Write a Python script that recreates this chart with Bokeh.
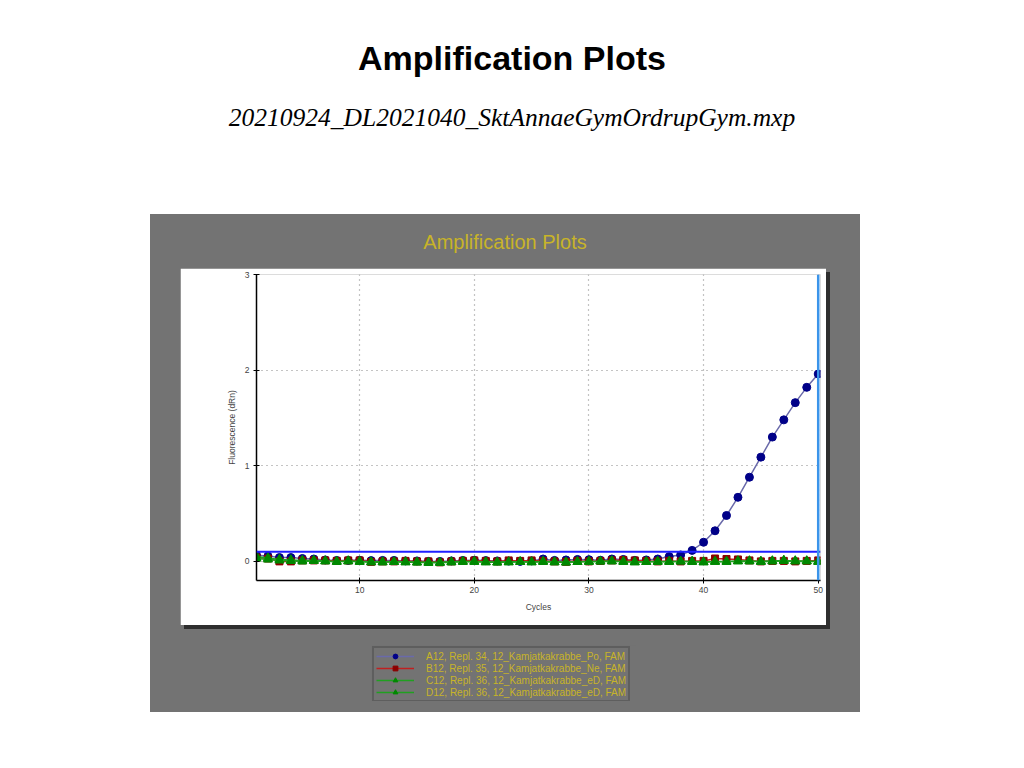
from bokeh.embed import file_html
from bokeh.resources import INLINE
from bokeh.layouts import column, row
from bokeh.models import (ColumnDataSource, Div, Legend, LegendItem, Range1d,
                          Span, Spacer)
from bokeh.plotting import figure

# cycles 1..50
cycles = list(range(1, 51))

a12 = [0.065, 0.055, 0.04, 0.04, 0.03, 0.025, 0.015, 0.01, 0.01, 0.012,
       0.008, 0.01, 0.01, 0.005, 0.005, 0.0, 0.0, 0.005, 0.01, 0.012,
       0.008, 0.005, 0.003, 0.0, 0.005, 0.025, 0.01, 0.015, 0.02, 0.018,
       0.012, 0.025, 0.02, 0.01, 0.015, 0.025, 0.05, 0.067, 0.115, 0.2,
       0.32, 0.48, 0.67, 0.88, 1.09, 1.30, 1.48, 1.66, 1.82, 1.96]
b12 = [0.04, 0.03, 0.0, 0.0, 0.01, 0.01, 0.01, 0.005, 0.01, 0.01,
       -0.005, 0.0, 0.0, 0.005, 0.0, 0.0, -0.01, 0.0, 0.005, 0.01,
       0.005, 0.0, 0.01, 0.005, 0.01, 0.005, 0.0, -0.005, 0.005, 0.0,
       0.005, 0.01, 0.015, 0.01, 0.005, 0.0, 0.005, 0.0, 0.005, 0.005,
       0.03, 0.025, 0.02, 0.01, 0.0, 0.005, 0.005, 0.0, 0.005, 0.01]
c12 = [0.05, 0.035, 0.02, 0.015, 0.01, 0.01, 0.005, 0.0, 0.005, 0.0,
       -0.005, -0.005, -0.005, -0.005, -0.01, -0.01, -0.01, -0.005, 0.0, 0.0,
       -0.005, -0.01, -0.005, -0.005, -0.005, 0.0, -0.005, -0.01, -0.005, 0.0,
       0.0, 0.005, 0.0, -0.005, -0.005, 0.0, 0.0, 0.0, 0.0, -0.005,
       0.0, 0.0, 0.005, 0.005, 0.0, 0.005, 0.01, 0.005, 0.005, 0.0]
d12 = [0.03, 0.02, 0.01, 0.005, 0.0, 0.005, 0.0, -0.005, 0.0, -0.005,
       -0.01, -0.01, -0.005, -0.01, -0.01, -0.015, -0.015, -0.01, -0.005, -0.005,
       -0.01, -0.01, -0.01, -0.005, -0.01, -0.005, -0.01, -0.01, -0.005, -0.005,
       0.0, 0.0, -0.005, -0.01, -0.005, -0.005, -0.005, 0.0, -0.005, -0.01,
       -0.005, -0.005, 0.0, 0.0, -0.005, 0.0, 0.005, 0.0, 0.0, -0.005]

labels = ["A12, Repl. 34, 12_Kamjatkakrabbe_Po, FAM",
          "B12, Repl. 35, 12_Kamjatkakrabbe_Ne, FAM",
          "C12, Repl. 36, 12_Kamjatkakrabbe_eD, FAM",
          "D12, Repl. 36, 12_Kamjatkakrabbe_eD, FAM"]
threshold = 0.1
last_cycle = 50

GRAY = "#737373"
YELLOW = "#c8b428"
FONT = "Liberation Sans"

# style per series: (line color, marker, marker color, size)
styles = [("#6a6aaa", "circle", "#000088", 8),
          ("#c02020", "square", "#8b0000", 7),
          ("#20a020", "triangle", "#008800", 9),
          ("#20a020", "triangle", "#008800", 9)]

src = ColumnDataSource(data=dict(x=cycles, a=a12, b=b12, c=c12, d=d12))

p = figure(width=646, height=357, x_range=Range1d(1, 50.2), y_range=Range1d(-0.2, 3),
           output_backend="svg", toolbar_location=None,
           min_border_left=76, min_border_right=6, min_border_top=6, min_border_bottom=45,
           background_fill_color="white", border_fill_color="white",
           outline_line_color=None, margin=0,
           styles={"box-shadow": "4px 4px 0px #2e2e2e"})

p.xaxis.ticker = [10, 20, 30, 40, 50]
p.xaxis.ticker.num_minor_ticks = 10
p.yaxis.ticker = [0, 1, 2, 3]
p.yaxis.ticker.num_minor_ticks = 2
p.xaxis.axis_label = "Cycles"
p.yaxis.axis_label = "Fluorescence (dRn)"
for ax in (p.xaxis, p.yaxis):
    ax.axis_line_color = "black"
    ax.axis_line_width = 1.5
    ax.major_tick_in = 3
    ax.major_tick_out = 3
    ax.minor_tick_in = 2
    ax.minor_tick_out = 2
    ax.major_tick_line_color = "black"
    ax.minor_tick_line_color = "black"
    ax.major_label_text_font = FONT
    ax.major_label_text_font_size = "8.5px"
    ax.major_label_text_color = "#444444"
    ax.axis_label_text_font = FONT
    ax.axis_label_text_font_size = "8.5px"
    ax.axis_label_text_font_style = "normal"
    ax.axis_label_text_color = "#444444"
p.xaxis.major_label_standoff = 3
p.xaxis.axis_label_standoff = 6
p.yaxis.major_label_standoff = 4
p.yaxis.axis_label_standoff = 5

p.grid.grid_line_color = "#888888"
p.grid.grid_line_dash = "1 4"
p.grid.grid_line_width = 1.2

for col, (lc, mk, mc, sz) in zip(["a", "b", "c", "d"], styles):
    p.line("x", col, source=src, line_color=lc, line_width=1.5)
    p.scatter("x", col, source=src, marker=mk, size=sz, fill_color=mc, line_color=mc)

p.add_layout(Span(location=threshold, dimension="width", line_color="#1f1fff", line_width=2))
p.add_layout(Span(location=last_cycle, dimension="height", line_color="#3a94ea", line_width=2.5))

# legend in its own small panel; the series sit outside its ranges
lg = figure(width=265, height=56, x_range=(100, 101), y_range=(100, 101),
            output_backend="svg", toolbar_location=None,
            x_axis_location=None, y_axis_location=None, min_border=0,
            background_fill_color=GRAY, border_fill_color=GRAY,
            outline_line_color=None, margin=0)
lg.grid.visible = False
items = []
for lab, col, (lc, mk, mc, sz) in zip(labels, ["a", "b", "c", "d"], styles):
    lr = lg.line("x", col, source=src, line_color=lc, line_width=1.5)
    sr = lg.scatter("x", col, source=src, marker=mk, size=sz, fill_color=mc, line_color=mc)
    items.append(LegendItem(label=lab, renderers=[lr, sr]))
leg = Legend(items=items, location="top_left", margin=1, padding=2, spacing=0,
             glyph_width=38, glyph_height=12, label_height=12, label_standoff=12,
             label_text_font=FONT, label_text_font_size="10px", label_text_color=YELLOW,
             background_fill_color=GRAY, background_fill_alpha=1.0,
             border_line_color="#4a4a4a", border_line_width=2)
lg.add_layout(leg, "center")

header = Div(text=(
    '<div style="position:relative;width:1016px;height:214px;">'
    '<div style="position:absolute;left:8px;top:37px;width:1008px;text-align:center;'
    "font-family:'Liberation Sans';font-weight:bold;font-size:34px;line-height:42px;color:#000;\">"
    'Amplification Plots</div>'
    '<div style="position:absolute;left:8px;top:101px;width:1008px;text-align:center;'
    "font-family:'Liberation Serif';font-style:italic;font-size:25.5px;line-height:34px;color:#000;\">"
    '20210924_DL2021040_SktAnnaeGymOrdrupGym.mxp</div></div>'),
    width=1016, height=214, margin=0)

ptitle = Div(text=(
    '<div style="width:710px;height:54px;text-align:center;'
    "font-family:'Liberation Sans';font-size:20px;line-height:56px;color:" + YELLOW + ';">'
    'Amplification Plots</div>'), width=710, height=54, margin=0)

panel = column(
    ptitle,
    row(Spacer(width=30, height=357, margin=0), p, Spacer(width=34, height=357, margin=0)),
    Spacer(width=710, height=20, margin=0),
    row(Spacer(width=221, height=56, margin=0), lg, Spacer(width=224, height=56, margin=0)),
    Spacer(width=710, height=11, margin=0),
    styles={"background-color": GRAY}, margin=0)

page = column(header, row(Spacer(width=150, height=498, margin=0), panel))

open("out.html", "w").write(file_html(page, INLINE))
